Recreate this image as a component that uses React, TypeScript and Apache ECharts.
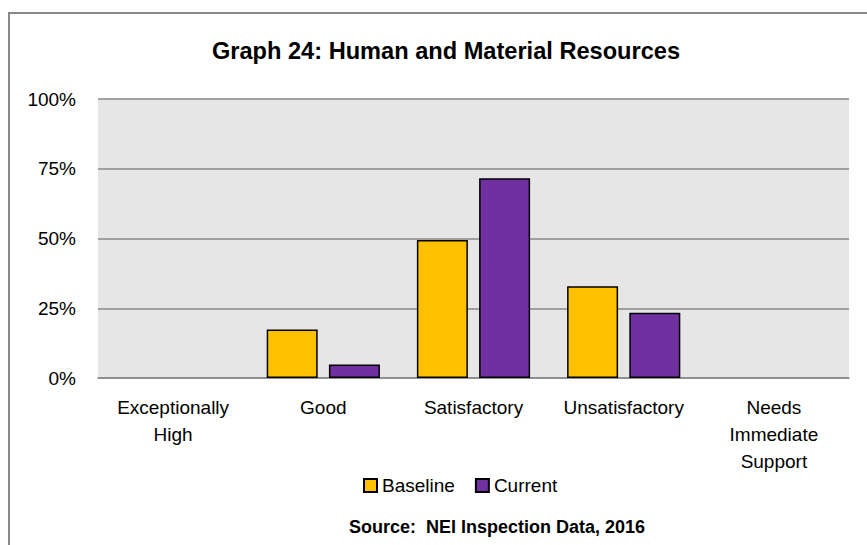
import React, { useEffect, useRef } from "react";
import * as echarts from "echarts";

const categories = ["Exceptionally\nHigh", "Good", "Satisfactory", "Unsatisfactory", "Needs\nImmediate\nSupport"];
const baseline = [0, 17.4, 49.5, 32.9, 0];
const current = [0, 4.8, 71.6, 23.4, 0];
const yTicks = [0, 25, 50, 75, 100];
const seriesNames = ["Baseline", "Current"];
const titleText = "Graph 24: Human and Material Resources";
const sourceText = "Source:  NEI Inspection Data, 2016";

const FONT = "'Liberation Sans', Arial, sans-serif";

const toBars = (arr: number[]) => arr.map((v) => (v === 0 ? null : v));

export default function App() {
  const ref = useRef<HTMLDivElement>(null);
  useEffect(() => {
    if (!ref.current) return;
    const chart = echarts.init(ref.current, undefined, { renderer: "svg" });
    chart.setOption({
      animation: false,
      backgroundColor: "#ffffff",
      textStyle: { fontFamily: FONT },
      grid: {
        left: 98,
        right: 18,
        top: 99,
        bottom: 167,
        show: true,
        backgroundColor: "#e6e6e6",
        borderWidth: 0,
      },
      legend: {
        data: seriesNames,
        left: 363,
        top: 476,
        itemWidth: 13,
        itemHeight: 13,
        itemGap: 20,
        icon: "rect",
        textStyle: { fontFamily: FONT, fontSize: 19, color: "#000", padding: [0, 0, 0, 0] },
        padding: 0,
      },
      xAxis: {
        type: "category",
        data: categories,
        axisLine: { show: true, lineStyle: { color: "#888888", width: 1.5 } },
        axisTick: { show: false },
        axisLabel: {
          interval: 0,
          margin: 16,
          fontSize: 19,
          lineHeight: 27,
          color: "#000",
          fontFamily: FONT,
          align: "center",
        },
      },
      yAxis: {
        type: "value",
        min: 0,
        max: 100,
        interval: 25,
        axisLine: { show: false },
        axisTick: { show: false },
        splitLine: { show: true, lineStyle: { color: "#888888", width: 1.5 } },
        axisLabel: {
          margin: 22,
          fontSize: 19,
          color: "#000",
          fontFamily: FONT,
          formatter: (v: number) => (yTicks.includes(v) ? v + "%" : ""),
        },
      },
      series: [
        {
          name: seriesNames[0],
          type: "bar",
          data: toBars(baseline),
          barWidth: 51,
          barGap: "22%",
          itemStyle: { color: "#FFC000", borderColor: "#000", borderWidth: 1.5 },
        },
        {
          name: seriesNames[1],
          type: "bar",
          data: toBars(current),
          barWidth: 51,
          barGap: "22%",
          itemStyle: { color: "#7030A0", borderColor: "#000", borderWidth: 1.5 },
        },
      ],
      graphic: [
        {
          type: "rect",
          shape: { x: 9, y: 13, width: 880, height: 560 },
          style: { fill: "none", stroke: "#898989", lineWidth: 2 },
          silent: true,
        },
        {
          type: "text",
          style: {
            x: 446,
            y: 51,
            text: titleText,
            textAlign: "center",
            textVerticalAlign: "middle",
            font: "bold 23.6px " + FONT,
            fill: "#000",
          },
        },
        {
          type: "text",
          style: {
            x: 497,
            y: 527,
            text: sourceText,
            textAlign: "center",
            textVerticalAlign: "middle",
            font: "bold 18px " + FONT,
            fill: "#000",
          },
        },
      ],
    });
    return () => chart.dispose();
  }, []);
  return (
    <div
      ref={ref}
      style={{ position: "fixed", left: 0, top: 0, width: 867, height: 545 }}
    />
  );
}
